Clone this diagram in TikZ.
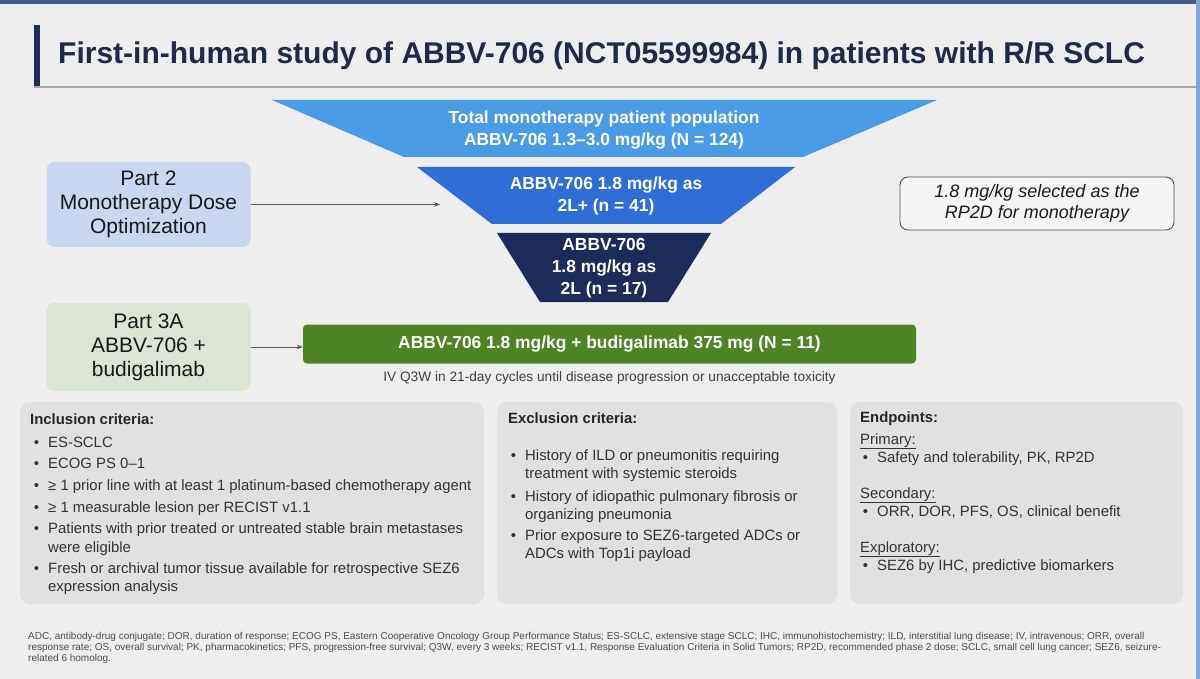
\documentclass[tikz,border=0pt]{standalone}
\usepackage{fontspec}
\setmainfont{Liberation Sans}
\usetikzlibrary{positioning,arrows.meta}
\definecolor{bgcol}{HTML}{EEEEEE}
\definecolor{navy}{HTML}{1C2B59}
\definecolor{titlecol}{HTML}{1F2A4A}
\definecolor{funnelA}{HTML}{4A9BE6}
\definecolor{funnelB}{HTML}{2E6ED6}
\definecolor{funnelC}{HTML}{1C2B59}
\definecolor{parttwo}{HTML}{C9D8EE}
\definecolor{partthree}{HTML}{DCE4D4}
\definecolor{combogreen}{HTML}{4E8423}
\definecolor{panelgray}{HTML}{E1E1E1}
\definecolor{txtgray}{HTML}{333333}
\definecolor{edgeblue}{HTML}{7FA7D3}
\begin{document}
\begin{tikzpicture}[x=1pt,y=-1pt,>={Stealth[length=6pt,width=4.5pt]},
    partbox/.style={rounded corners=8pt,minimum width=204pt,align=center,text=black!90,
      font=\fontsize{21}{24}\selectfont},
    funneltext/.style={align=center,text=white,font=\bfseries\fontsize{17.4}{22}\selectfont},
    itemtext/.style={anchor=base west,inner sep=0pt,text=txtgray,font=\fontsize{14.9}{17}\selectfont},
    headtext/.style={itemtext,text=black!85,font=\bfseries\fontsize{14.9}{17}\selectfont},
    link/.style={->,line width=0.6pt,draw=black!65}]
\useasboundingbox (0,0) rectangle (1200,679);
\fill[bgcol] (0,0) rectangle (1200,679);
\fill[navy!60!edgeblue] (0,0) rectangle (1200,4);
\fill[edgeblue] (1196,0) rectangle (1200,679);
% title
\fill[navy] (34,25) rectangle (40,87);
\draw[black!35,line width=1.5pt] (34,87) -- (1196,87);
\node[anchor=west,inner sep=0pt,text=titlecol,font=\bfseries\fontsize{30}{34}\selectfont] (title) at (58,56)
  {First-in-human study of ABBV-706 (NCT05599984) in patients with R/R SCLC};
% funnel
\fill[funnelA] (272,100) -- (937,100) -- (803,157) -- (404,157) -- cycle;
\fill[funnelB] (417,167) -- (795,167) -- (721,224) -- (492,224) -- cycle;
\fill[funnelC] (497,233) -- (711,233) -- (668,302) -- (540,302) -- cycle;
\node[funneltext] (total) at (604,130) {Total monotherapy patient population\\ABBV-706 1.3–3.0 mg/kg (N = 124)};
\node[funneltext] (second) at (606,196.5) {ABBV-706 1.8 mg/kg as\\2L+ (n = 41)};
\node[funneltext] (third) at (604,268) {ABBV-706\\1.8 mg/kg as\\2L (n = 17)};
% parts
\node[partbox,fill=parttwo,minimum height=85pt] (part2) at (148.5,204.5) {Part 2\\Monotherapy Dose\\Optimization};
\node[partbox,fill=partthree,minimum height=88pt] (part3) at (148.5,347) {Part 3A\\ABBV-706 +\\budigalimab};
\coordinate (p2end) at (440,204.5);
\draw[link] (part2.east) -- (p2end);
\node[rounded corners=4pt,fill=combogreen,minimum width=613pt,minimum height=39pt,text=white,
  font=\bfseries\fontsize{17.4}{20}\selectfont] (combo) at (609.5,344) {ABBV-706 1.8 mg/kg + budigalimab 375 mg (N = 11)};
\draw[link] (part3.east) -- (part3.east -| combo.west);
\node[below=8pt of combo,inner sep=0pt,text=black!75,font=\fontsize{13.7}{15}\selectfont] (cycles)
  {IV Q3W in 21-day cycles until disease progression or unacceptable toxicity};
\node[draw=black!70,line width=0.9pt,fill=bgcol!60!white,rounded corners=8pt,minimum width=274pt,minimum height=53pt,
  align=center,text=black!90,font=\itshape\fontsize{18}{21}\selectfont] (rp2d) at (1037,203.5)
  {1.8 mg/kg selected as the\\RP2D for monotherapy};
% panels
\fill[panelgray,rounded corners=10pt] (20,402) rectangle (484,604);
\fill[panelgray,rounded corners=10pt] (497,402) rectangle (837,604);
\fill[panelgray,rounded corners=10pt] (850,402) rectangle (1183,604);
\node[headtext] (inchead) at (30,424) {Inclusion criteria:};
\foreach \y/\b/\t [count=\i] in {447/1/ES-SCLC, 468/1/{ECOG PS 0–1},
    490/1/{≥ 1 prior line with at least 1 platinum-based chemotherapy agent},
    512/1/{≥ 1 measurable lesion per RECIST v1.1},
    533/1/{Patients with prior treated or untreated stable brain metastases}, 552/0/{were eligible},
    573/1/{Fresh or archival tumor tissue available for retrospective SEZ6}, 591/0/{expression analysis}}
  \node[itemtext] (inc\i) at (48,\y) {\ifnum\b=1\llap{\textbullet\hspace{9pt}}\fi\t};
\node[headtext] (exchead) at (508,423) {Exclusion criteria:};
\foreach \y/\b/\t [count=\i] in {460/1/{History of ILD or pneumonitis requiring}, 478/0/{treatment with systemic steroids},
    501/1/{History of idiopathic pulmonary fibrosis or}, 519/0/{organizing pneumonia},
    540/1/{Prior exposure to SEZ6-targeted ADCs or}, 558/0/{ADCs with Top1i payload}}
  \node[itemtext] (exc\i) at (525,\y) {\ifnum\b=1\llap{\textbullet\hspace{9pt}}\fi\t};
\node[headtext] (endhead) at (860,422) {Endpoints:};
\foreach \y/\k/\t [count=\i] in {444/Primary:/{Safety and tolerability, PK, RP2D},
    498/Secondary:/{ORR, DOR, PFS, OS, clinical benefit},
    552/Exploratory:/{SEZ6 by IHC, predictive biomarkers}}
{
  \node[itemtext] (kind\i) at (860,\y) {\underline{\k}};
  \node[itemtext] (end\i) at (877,\y+18) {\llap{\textbullet\hspace{9pt}}\t};
}
% abbreviations
\node[anchor=north west,inner sep=0pt,align=left,text=black!70,font=\fontsize{10}{11}\selectfont] (notes) at (28,632)
  {ADC, antibody-drug conjugate; DOR, duration of response; ECOG PS, Eastern Cooperative Oncology Group Performance Status; ES-SCLC, extensive stage SCLC; IHC, immunohistochemistry; ILD, interstitial lung disease; IV, intravenous; ORR, overall\\
   response rate; OS, overall survival; PK, pharmacokinetics; PFS, progression-free survival; Q3W, every 3 weeks; RECIST v1.1, Response Evaluation Criteria in Solid Tumors; RP2D, recommended phase 2 dose; SCLC, small cell lung cancer; SEZ6, seizure-\\
   related 6 homolog.};
\end{tikzpicture}
\end{document}
